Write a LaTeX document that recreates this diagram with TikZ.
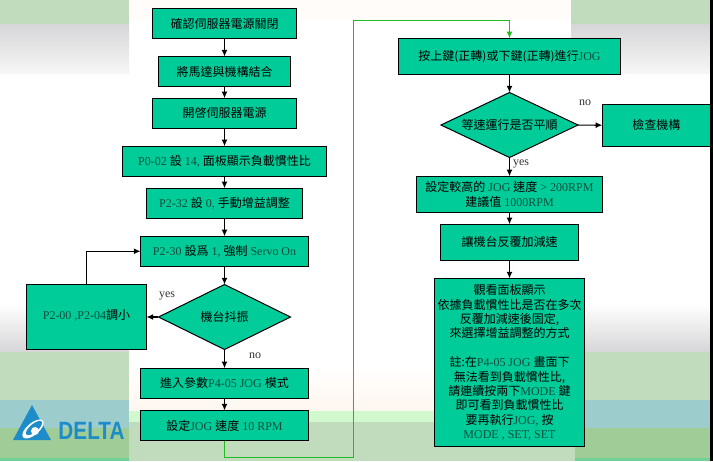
\documentclass[tikz,border=0pt]{standalone}
\usepackage{fontspec}
\usepackage{tikz}
\usetikzlibrary{arrows.meta,shapes.geometric}
\setmainfont{Liberation Serif}
\newfontfamily\tcfont{Noto Sans CJK TC}
\newfontfamily\logofont{Liberation Sans}
\newcommand{\zh}[1]{{\tcfont\color{black}#1}}

\definecolor{boxgreen}{HTML}{00CC99}
\definecolor{linktext}{HTML}{0F4D3C}
\definecolor{loopgreen}{HTML}{22BB22}
\definecolor{panelgreen}{HTML}{C0DCBC}
\definecolor{panelgray}{HTML}{D6D6D8}
\definecolor{panellight}{HTML}{F6F6F6}
\definecolor{panelblue}{HTML}{9CCCCC}
\definecolor{paneldark}{HTML}{A0CC98}
\definecolor{panelteal}{HTML}{70D098}
\definecolor{bandgreen}{HTML}{D2F8CE}
\definecolor{logoblue}{HTML}{1E8CC8}

\tikzset{
	boxsize/.style 2 args={minimum width=#1*0.75pt, minimum height=#2*0.75pt},
	flowbox/.style={draw=black, fill=boxgreen, text=linktext, line width=0.75pt, inner sep=0pt, outer sep=0pt, align=center, font=\fontsize{9}{10.8}\selectfont},
	flowdiamond/.style={flowbox, diamond, aspect=2},
	flowlabel/.style={inner sep=0pt, text=black!80, font=\fontsize{9}{10.8}\selectfont},
	flowarrow/.style={-{Latex[length=5pt,width=4.5pt]}, line width=0.9pt},
	looparrow/.style={flowarrow, draw=loopgreen}
}

\begin{document}
\begin{tikzpicture}[x=0.75pt, y=-0.75pt]
	\useasboundingbox (0,0) rectangle (713,461);
	\fill[white] (0,0) rectangle (713,461);

	% Side panels
	\foreach \x/\w in {0/129,571/139} {
		\fill[panelgreen] (\x,0) rectangle ++(\w,24);
		\shade[top color=panelgray, bottom color=panellight] (\x,24) rectangle ++(\w,49);
		\shade[top color=white, bottom color=panelgray] (\x,304) rectangle ++(\w,48);
		\fill[panelgreen] (\x,352) rectangle ++(\w,48);
		\fill[panelblue] (\x,400) rectangle ++(\w,28);
		\fill[paneldark] (\x,428) rectangle ++(\w,30);
		\fill[panelteal] (\x,458) rectangle ++(\w,3);
	}

	% Bottom of the middle part
	\fill[black!2!orange!2] (129,0) rectangle (571,20);
	\shade[top color=white, bottom color=black!8!orange!6] (129,363) rectangle (571,411);
	\fill[bandgreen] (129,411) rectangle (571,422);
	\fill[panelgreen] (129,422) rectangle (571,461);
	\fill[panelgreen] (571,428) rectangle (575,461);

	% Logo
	\fill[logoblue] (32,405) -- (51,440) -- (13,440) -- cycle;
	\fill[white, rotate around={40:(33,429)}] (33,429) ellipse (13 and 6);
	\fill[logoblue, rotate around={40:(34,428)}] (34,428) ellipse (10 and 4);
	\fill[white] (35,431) circle (4);
	\node[text=logoblue, inner sep=0pt, font=\logofont\bfseries\fontsize{18.75}{18.75}\selectfont] (logotext) at (91.5,431) {\scalebox{0.83}[1]{DELTA}};

	% Left column
	\node[flowbox, boxsize={144}{30}] (poweroff) at (224.5,23.5) {\zh{確認伺服器電源關閉}};
	\node[flowbox, boxsize={132}{30}] (couple) at (224.5,71.5) {\zh{將馬達與機構結合}};
	\node[flowbox, boxsize={144}{30}] (poweron) at (224.5,113.25) {\zh{開啓伺服器電源}};
	\node[flowbox, boxsize={204}{30}] (ptwo) at (224.5,161.25) {P0-02 \zh{設} 14, \zh{面板顯示負載慣性比}};
	\node[flowbox, boxsize={156}{30}] (manual) at (224.5,203.25) {P2-32 \zh{設} 0, \zh{手動增益調整}};
	\node[flowbox, boxsize={168}{30}] (servoon) at (224.5,251.25) {P2-30 \zh{設爲} 1, \zh{強制} Servo On};
	\node[flowdiamond, boxsize={132}{65}] (shake) at (224.5,317) {\zh{機台抖振}};
	\node[flowbox, boxsize={120}{65.5}] (reduce) at (86.5,317) {\raisebox{4.5pt}{P2-00 ,P2-04\zh{調小}}};
	\node[flowbox, boxsize={168}{30}] (jogmode) at (224.5,383.25) {\zh{進入參數}P4-05 JOG \zh{模式}};
	\node[flowbox, boxsize={168}{30}] (jogspeed) at (224.5,425.5) {\zh{設定}JOG \zh{速度} 10 RPM};

	% Right column
	\node[flowbox, boxsize={222}{36}] (jogkeys) at (509.5,56.25) {\zh{按上鍵(正轉)或下鍵(正轉)進行}JOG};
	\node[flowdiamond, boxsize={137}{65}] (smooth) at (509.5,125) {\zh{等速運行是否平順}};
	\node[flowbox, boxsize={108}{42}] (check) at (656.25,125.25) {\zh{檢查機構}};
	\node[flowbox, boxsize={186}{36}] (highspeed) at (509.5,194.25) {\zh{設定較高的} JOG \zh{速度} > 200RPM\\\zh{建議值} 1000RPM};
	\node[flowbox, boxsize={138}{36}] (repeat) at (509.5,242.25) {\zh{讓機台反覆加減速}};
	\node[flowbox, boxsize={150}{168}] (watch) at (509.5,362.5) {\zh{觀看面板顯示}\\\zh{依據負載慣性比是否在多次}\\\zh{反覆加減速後固定,}\\\zh{來選擇增益調整的方式}\\\mbox{}\\\zh{註:在}P4-05 JOG \zh{畫面下}\\\zh{無法看到負載慣性比,}\\\zh{請連續按兩下}MODE \zh{鍵}\\\zh{即可看到負載慣性比}\\\zh{要再執行}JOG, \zh{按}\\MODE , SET, SET};

	% Right edge
	\fill[black] (710,0) rectangle (713,461);

	% Arrows
	\draw[flowarrow] (poweroff) -- (couple);
	\draw[flowarrow] (couple) -- (poweron);
	\draw[flowarrow] (poweron) -- (ptwo);
	\draw[flowarrow] (ptwo) -- (manual);
	\draw[flowarrow] (manual) -- (servoon);
	\draw[flowarrow] (servoon) -- (shake);
	\draw[flowarrow] (shake) -- (reduce);
	\draw[flowarrow] (reduce.north) |- (servoon.west);
	\draw[flowarrow] (shake) -- (jogmode);
	\draw[flowarrow] (jogmode) -- (jogspeed);
	\draw[flowarrow] (jogkeys) -- (smooth);
	\draw[flowarrow] (smooth) -- (check);
	\draw[flowarrow] (smooth) -- (highspeed);
	\draw[flowarrow] (highspeed) -- (repeat);
	\draw[flowarrow] (repeat) -- (watch);

	% Green link between the columns
	\coordinate (loopbottom) at (353.5,457.5);
	\coordinate (looptop) at (509.5,20.5);
	\draw[looparrow] (jogspeed.south) |- (loopbottom) |- (looptop) -- (jogkeys.north);

	% Labels
	\node[flowlabel] (yesleft) at (167,295.5) {yes};
	\node[flowlabel] (noleft) at (255,355.5) {no};
	\node[flowlabel] (noright) at (585,103) {no};
	\node[flowlabel] (yesright) at (521,163.5) {yes};

\end{tikzpicture}
\end{document}
